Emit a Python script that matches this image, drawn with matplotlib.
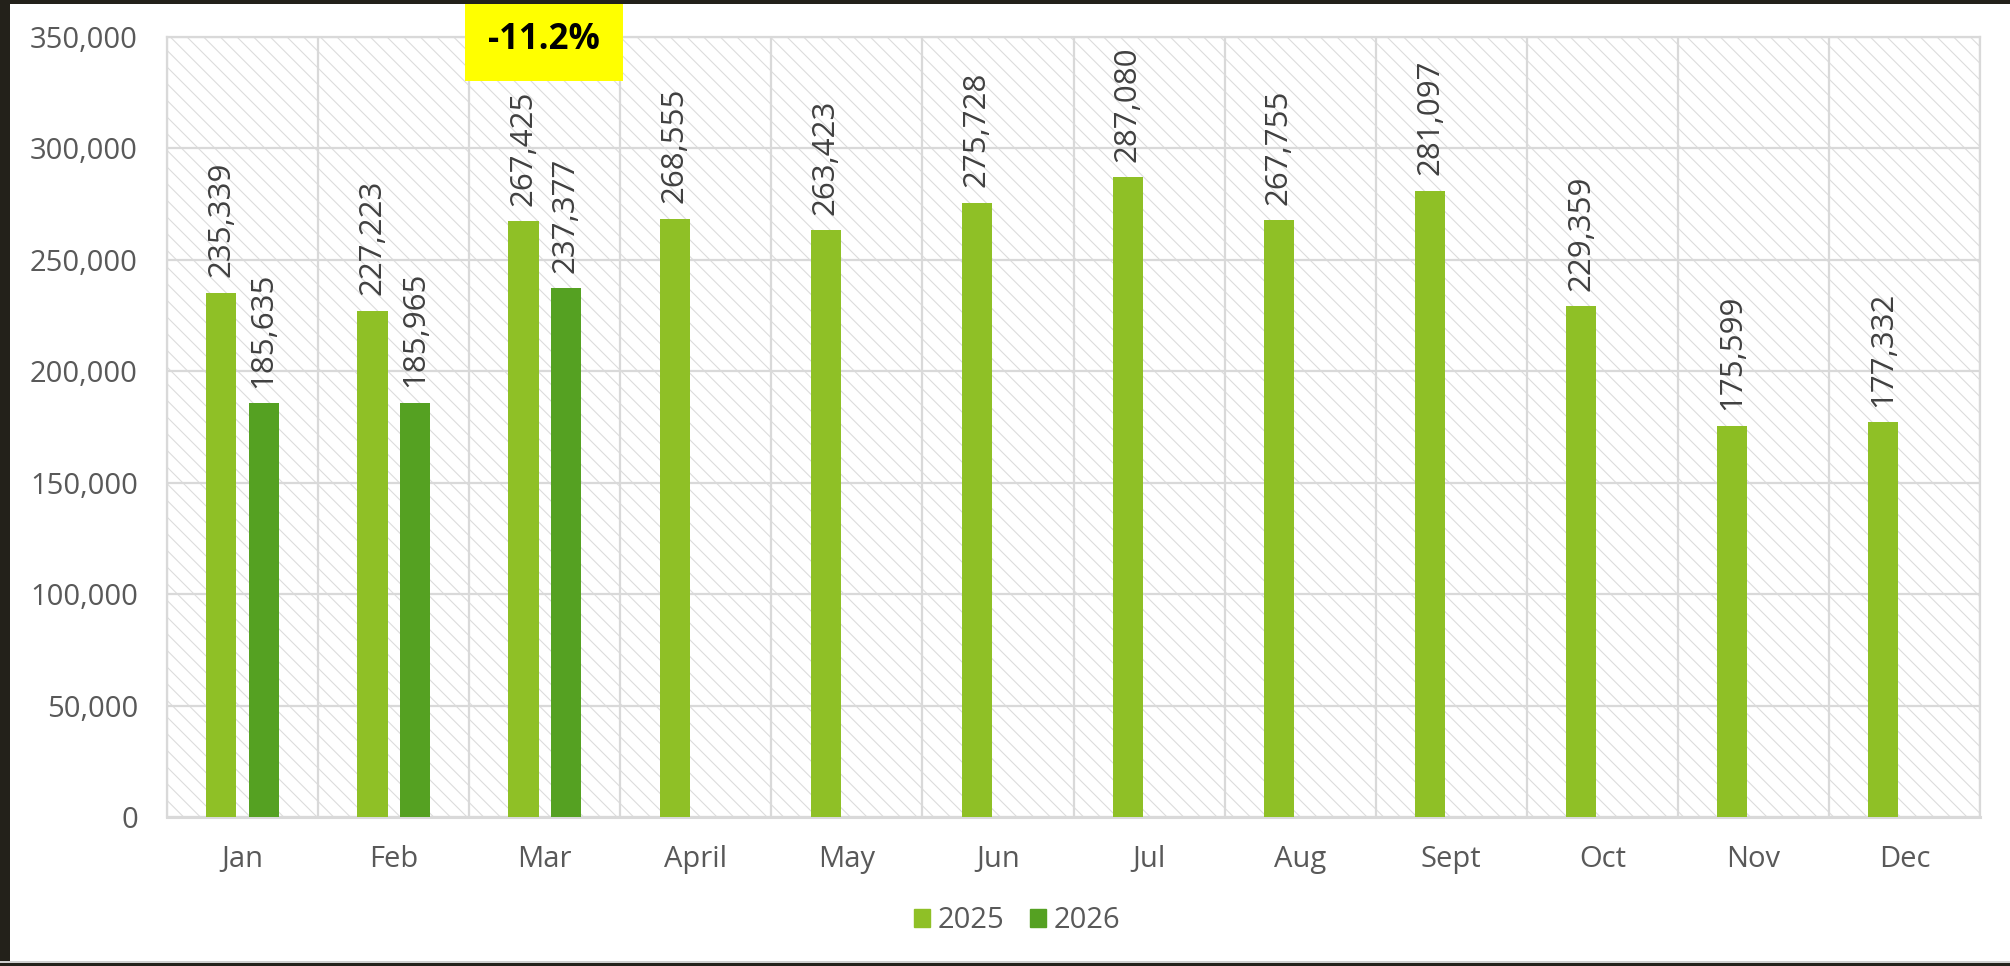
import numpy as np
import matplotlib
matplotlib.use("Agg")
import matplotlib.pyplot as plt
from matplotlib.patches import Rectangle, Patch
from matplotlib.ticker import FuncFormatter

months = ["Jan", "Feb", "Mar", "April", "May", "Jun", "Jul", "Aug", "Sept", "Oct", "Nov", "Dec"]
vals_2025 = [235339, 227223, 267425, 268555, 263423, 275728, 287080, 267755, 281097, 229359, 175599, 177332]
vals_2026 = [185635, 185965, 237377]
change_label = "-11.2%"

c2025 = "#8fc026"
c2026 = "#55a122"
grid_c = "#d9d9d9"
txt_c = "#595959"

plt.rcParams["font.family"] = ["Open Sans", "DejaVu Sans"]
plt.rcParams["hatch.color"] = "#dcdcdc"
plt.rcParams["hatch.linewidth"] = 0.8

W, H = 2010, 966
fig = plt.figure(figsize=(W / 100, H / 100), dpi=100)
fig.patch.set_facecolor("white")
ax = fig.add_axes([167 / W, 1 - 817 / H, (1980 - 167) / W, (817 - 37) / H])

# hatched plot background
bg = Rectangle((0, 0), 1, 1, transform=ax.transAxes, facecolor="white",
               edgecolor="#dcdcdc", hatch="\\\\", lw=0, zorder=0)
ax.add_patch(bg)

x = np.arange(len(months))
bw = 0.2
off = 0.14
b1 = ax.bar(x - off, vals_2025, width=bw, color=c2025, zorder=3)
x2 = np.arange(len(vals_2026))
b2 = ax.bar(x2 + off, vals_2026, width=bw, color=c2026, zorder=3)

for bars in (b1, b2):
    for r in bars:
        h = r.get_height()
        ax.annotate(f"{h:,.0f}", (r.get_x() + r.get_width() / 2, h),
                    xytext=(0, 11), textcoords="offset points",
                    rotation=90, ha="center", va="bottom",
                    fontsize=22.5, color="#404040", zorder=4)

ax.set_xlim(-0.5, len(months) - 0.5)
ax.set_ylim(0, 350000)
ax.set_yticks(np.arange(0, 350001, 50000))
ax.yaxis.set_major_formatter(FuncFormatter(lambda v, p: f"{v:,.0f}"))
ax.set_xticks(x)
ax.set_xticklabels(months)
ax.set_xticks(np.arange(-0.5, len(months), 1), minor=True)
ax.tick_params(axis="both", which="both", length=0, labelsize=21, labelcolor=txt_c)
ax.tick_params(axis="y", pad=21)
ax.tick_params(axis="x", pad=20)
ax.grid(True, axis="y", which="major", color=grid_c, lw=1.6, zorder=1)
ax.grid(True, axis="x", which="minor", color=grid_c, lw=1.6, zorder=1)
ax.set_axisbelow(True)
for s in ax.spines.values():
    s.set_color(grid_c)
    s.set_linewidth(1.6)
ax.spines["bottom"].set_linewidth(2.2)

# legend
handles = [Patch(color=c2025, label="2025"), Patch(color=c2026, label="2026")]
fig.legend(handles=handles, loc="center", bbox_to_anchor=(1017 / W, 1 - 921 / H),
           ncol=2, frameon=False, fontsize=21, labelcolor=txt_c,
           handlelength=0.55, handleheight=0.6, handletextpad=0.25, columnspacing=0.9)

# yellow change box
fig.patches.append(Rectangle((465 / W, 1 - 81 / H), 158 / W, 77 / H,
                             transform=fig.transFigure, facecolor="#ffff00",
                             edgecolor="none", zorder=5))
fig.text(544 / W, 1 - 40 / H, change_label, ha="center", va="center",
         fontsize=25, fontweight="bold", color="black", zorder=6)

# dark frame from the screenshot
dark = "#23211a"
fig.patches.append(Rectangle((0, 1 - 4 / H), 1, 4 / H, transform=fig.transFigure,
                             facecolor=dark, edgecolor="none", zorder=7))
fig.patches.append(Rectangle((0, 0), 10 / W, 1, transform=fig.transFigure,
                             facecolor=dark, edgecolor="none", zorder=7))
fig.patches.append(Rectangle((0, 0), 1, 3 / H, transform=fig.transFigure,
                             facecolor=dark, edgecolor="none", zorder=7))
fig.patches.append(Rectangle((0, 3 / H), 1, 2 / H, transform=fig.transFigure,
                             facecolor="#cfcfcf", edgecolor="none", zorder=7))

fig.savefig("out.png", dpi=100)
